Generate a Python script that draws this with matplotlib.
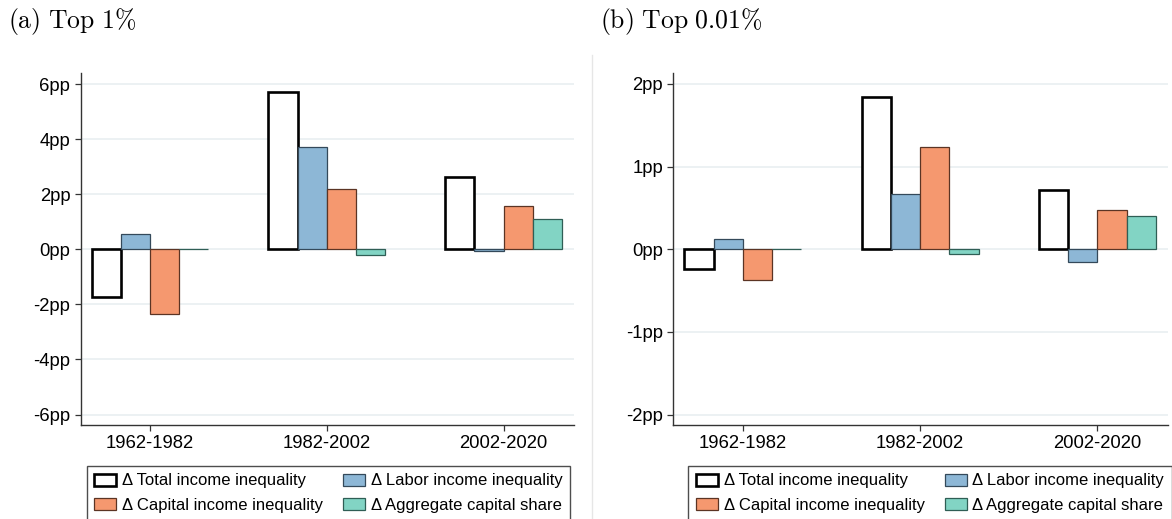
import matplotlib
matplotlib.use("Agg")
import matplotlib.pyplot as plt
import numpy as np
from matplotlib.patches import Patch
from matplotlib.lines import Line2D

# Periods and decomposition components
periods = ["1962-1982", "1982-2002", "2002-2020"]
components = ["Δ Total income inequality", "Δ Labor income inequality",
              "Δ Capital income inequality", "Δ Aggregate capital share"]

# Top 1% changes (percentage points)
top1_total = [-1.75, 5.72, 2.61]
top1_labor = [0.54, 3.73, -0.07]
top1_capital = [-2.35, 2.20, 1.58]
top1_capshare = [0.02, -0.20, 1.10]

# Top 0.01% changes (percentage points)
top001_total = [-0.24, 1.84, 0.72]
top001_labor = [0.125, 0.665, -0.15]
top001_capital = [-0.375, 1.24, 0.47]
top001_capshare = [0.005, -0.06, 0.40]

top1_ticks = [-6, -4, -2, 0, 2, 4, 6]
top001_ticks = [-2, -1, 0, 1, 2]

fills = ["white", "#8DB7D6", "#F5986F", "#82D4C4"]
edges = ["black", "#34495a", "#5b3424", "#2f5e55"]
edge_w = [1.9, 0.9, 0.9, 0.9]

plt.rcParams["font.family"] = ["Liberation Sans", "DejaVu Sans"]
plt.rcParams["mathtext.fontset"] = "cm"

W, H = 1172, 519
fig = plt.figure(figsize=(W / 100, H / 100), dpi=100)

def fx(px):
    return px / W

def fy(py):
    return 1 - py / H

bar_w = 0.165
offsets = np.array([-1.5, -0.5, 0.5, 1.5]) * bar_w


def panel(left_px, right_px, series, ticks, ylim, title, title_x):
    ax = fig.add_axes([fx(left_px), fy(425), fx(right_px - left_px), fy(73) - fy(425)])
    x = np.arange(len(periods))
    for i, vals in enumerate(series):
        ax.bar(x + offsets[i], vals, width=bar_w, color=fills[i],
               edgecolor=edges[i], linewidth=edge_w[i], zorder=3)
    ax.set_xlim(-0.392, 2.398)
    ax.set_ylim(*ylim)
    ax.set_yticks(ticks)
    ax.set_yticklabels([f"{t}pp" for t in ticks])
    ax.set_xticks(x)
    ax.set_xticklabels(periods)
    ax.yaxis.grid(True, color="#EAF0F2", linewidth=1.3, zorder=0)
    ax.set_axisbelow(True)
    for s in ["top", "right"]:
        ax.spines[s].set_visible(False)
    for s in ["left", "bottom"]:
        ax.spines[s].set_color("#333333")
        ax.spines[s].set_linewidth(1.0)
    ax.tick_params(axis="both", labelsize=13.3, length=4.5, width=0.9,
                   color="#333333", pad=3)
    fig.text(fx(title_x), fy(22), title, fontsize=18.5, va="center", ha="left")
    return ax


panel(80.7, 574, [top1_total, top1_labor, top1_capital, top1_capshare],
      top1_ticks, (-6.38, 6.4), r"$\mathrm{(a)\ Top\ 1\%}$", 8)
panel(673.3, 1168, [top001_total, top001_labor, top001_capital, top001_capshare],
      top001_ticks, (-2.127, 2.133), r"$\mathrm{(b)\ Top\ 0.01\%}$", 600)

# Legend under each panel
handles = [Patch(facecolor=fills[i], edgecolor=edges[i], linewidth=edge_w[i])
           for i in range(4)]
order = [0, 2, 1, 3]
for lx0 in [86.7, 688]:
    leg = fig.legend([handles[i] for i in order], [components[i] for i in order],
                     ncol=2, loc="upper left",
                     bbox_to_anchor=(fx(lx0), fy(466)),
                     fontsize=12, frameon=True, fancybox=False,
                     handlelength=1.32, handleheight=0.7, handletextpad=0.36,
                     borderpad=0.45, labelspacing=0.55, borderaxespad=0,
                     columnspacing=1.2)
    fr = leg.get_frame()
    fr.set_edgecolor("#222222")
    fr.set_linewidth(1.0)

# Thin divider between the two panels
fig.add_artist(Line2D([fx(592), fx(592)], [fy(55), 0], color="#E6E6E6",
                      linewidth=1.0))

fig.savefig("out.png", dpi=100)
